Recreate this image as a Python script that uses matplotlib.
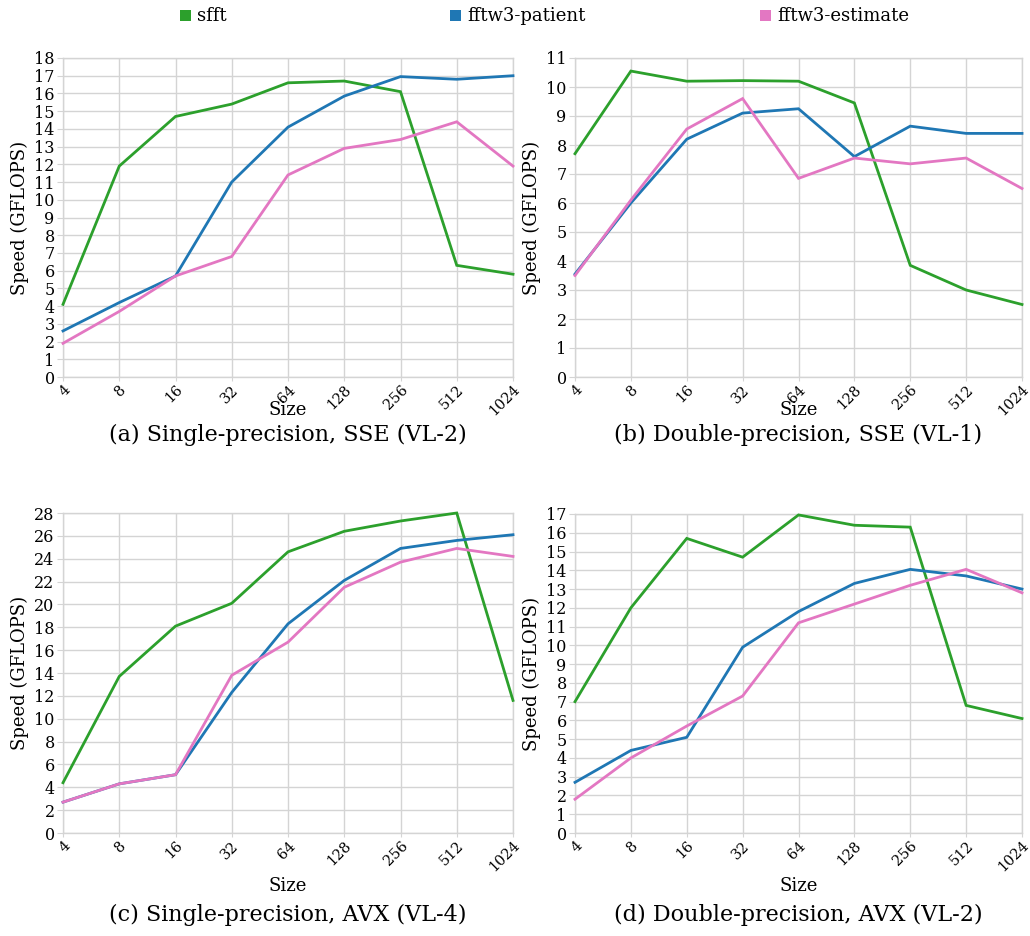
import matplotlib
matplotlib.use('Agg')
import matplotlib.pyplot as plt

plt.rcParams['font.family'] = ['DejaVu Serif']

sizes = ['4', '8', '16', '32', '64', '128', '256', '512', '1024']

# (a) single precision SSE
a_sfft = [4.1, 11.9, 14.7, 15.4, 16.6, 16.7, 16.1, 6.3, 5.8]
a_patient = [2.6, 4.2, 5.7, 11.0, 14.1, 15.85, 16.95, 16.8, 17.0]
a_estimate = [1.9, 3.7, 5.7, 6.8, 11.4, 12.9, 13.4, 14.4, 11.9]

# (b) double precision SSE
b_sfft = [7.7, 10.55, 10.2, 10.22, 10.2, 9.45, 3.85, 3.0, 2.5]
b_patient = [3.55, 6.0, 8.2, 9.1, 9.25, 7.6, 8.65, 8.4, 8.4]
b_estimate = [3.5, 6.1, 8.55, 9.6, 6.85, 7.55, 7.35, 7.55, 6.5]

# (c) single precision AVX
c_sfft = [4.4, 13.7, 18.1, 20.1, 24.6, 26.4, 27.3, 28.0, 11.6]
c_patient = [2.7, 4.3, 5.1, 12.3, 18.3, 22.1, 24.9, 25.6, 26.1]
c_estimate = [2.7, 4.3, 5.1, 13.8, 16.7, 21.5, 23.7, 24.9, 24.2]

# (d) double precision AVX
d_sfft = [7.0, 12.0, 15.7, 14.7, 16.95, 16.4, 16.3, 6.8, 6.1]
d_patient = [2.7, 4.4, 5.1, 9.9, 11.8, 13.3, 14.05, 13.7, 13.0]
d_estimate = [1.8, 4.0, 5.7, 7.3, 11.2, 12.2, 13.2, 14.05, 12.8]

series_names = ['sfft', 'fftw3-patient', 'fftw3-estimate']
colors = ['#2ca02c', '#1f77b4', '#e377c2']
grid_col = '#d4d4d4'

W, H = 1030, 936
fig = plt.figure(figsize=(W / 100, H / 100), dpi=100)


def px_axes(left, top, right, bottom):
    return fig.add_axes([left / W, 1 - bottom / H, (right - left) / W, (bottom - top) / H])


panels = [
    ((63, 58, 513, 377), [a_sfft, a_patient, a_estimate], 18, 1,
     '(a) Single-precision, SSE (VL-2)', 410, 435),
    ((575, 58, 1022, 377), [b_sfft, b_patient, b_estimate], 11, 1,
     '(b) Double-precision, SSE (VL-1)', 410, 435),
    ((63, 513, 513, 833), [c_sfft, c_patient, c_estimate], 28, 2,
     '(c) Single-precision, AVX (VL-4)', 886, 915),
    ((575, 514, 1022, 833), [d_sfft, d_patient, d_estimate], 17, 1,
     '(d) Double-precision, AVX (VL-2)', 886, 915),
]

x = list(range(len(sizes)))
for box, data, ymax, ystep, caption, size_y, cap_y in panels:
    ax = px_axes(*box)
    for vals, c in zip(data, colors):
        ax.plot(x, vals, color=c, lw=2.0, solid_joinstyle='miter', clip_on=False, zorder=3)
    ax.set_xlim(0, len(sizes) - 1)
    ax.set_ylim(0, ymax)
    ax.set_xticks(x)
    ax.set_xticklabels(sizes, rotation=45, ha='right', va='top', rotation_mode='anchor', fontsize=10.5)
    ax.set_yticks(range(0, ymax + 1, ystep))
    ax.tick_params(axis='y', labelsize=11.5, length=4, color=grid_col, pad=2)
    ax.tick_params(axis='x', length=3, color=grid_col, pad=1)
    ax.grid(True, color=grid_col, lw=1.0)
    ax.set_axisbelow(True)
    for s in ax.spines.values():
        s.set_color(grid_col)
        s.set_linewidth(1.0)
    ax.set_ylabel('Speed (GFLOPS)', fontsize=13, labelpad=4)
    cx = (box[0] + box[2]) / 2 / W
    fig.text(cx, 1 - size_y / H, 'Size', ha='center', va='center', fontsize=13)
    fig.text(cx, 1 - cap_y / H, caption, ha='center', va='center', fontsize=16)

for name, c, xpos in zip(series_names, colors, [180, 450, 760]):
    fig.patches.append(plt.Rectangle((xpos / W, 1 - 21 / H), 11 / W, 11 / H,
                                     facecolor=c, edgecolor='none',
                                     transform=fig.transFigure, figure=fig))
    fig.text((xpos + 17) / W, 1 - 16 / H, name, ha='left', va='center', fontsize=13)

fig.savefig('out.png', dpi=100)
